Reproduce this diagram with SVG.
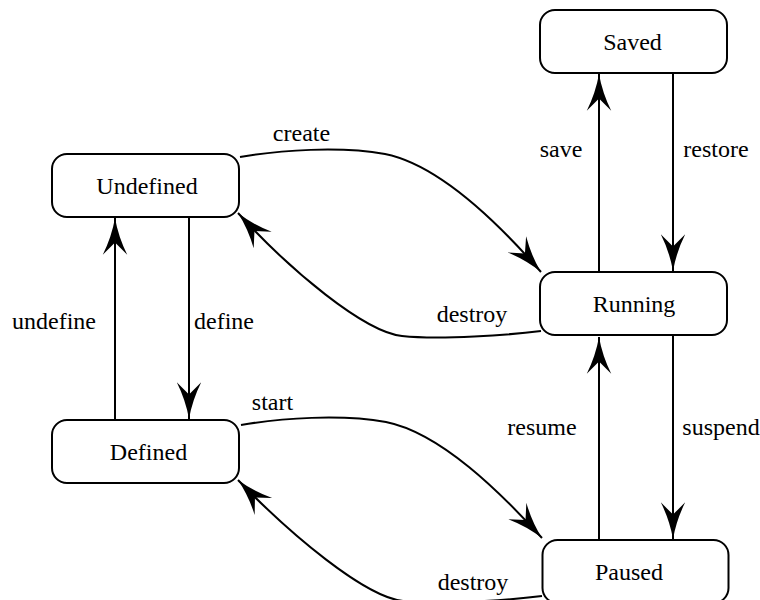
<svg xmlns="http://www.w3.org/2000/svg" width="760" height="600" viewBox="0 0 760 600">
<style>
.node rect{fill:#fff;stroke:#000;stroke-width:2}
.edges path{fill:none;stroke:#000;stroke-width:2;marker-end:url(#ah)}
</style>
<defs>
<marker id="ah" markerUnits="userSpaceOnUse" orient="auto" refX="0" refY="0" markerWidth="40" markerHeight="40" viewBox="-35 -12 36 24" overflow="visible">
<path d="M0,0 Q-17,-3 -33,-11 L-22,0 L-33,11 Q-17,3 0,0 Z" fill="#000" stroke="none"/>
</marker>
</defs>
<rect width="760" height="600" fill="#fff"/>
<g class="edges" id="edges">
<path d="M115,420 L115,218"/>
<path d="M189,217 L189,419"/>
<path d="M599,272 L599,74"/>
<path d="M673,73 L673,271"/>
<path d="M599,540 L599,337"/>
<path d="M673,335 L673,539"/>
<path d="M240,157 C280,150 340,146 385,154 C440,165 500,225 541,272"/>
<path d="M541,331 C510,335 440,340 402,336 C364,332 290,270 238,213"/>
<path d="M241,425 C281,418 341,414 386,422 C441,433 501,493 542,538"/>
<path d="M542,596 C511,600 441,605 403,601 C365,597 291,535 238,480"/>
</g>
<g font-family="'Times New Roman', 'Liberation Serif', serif" font-size="24" fill="#000" text-anchor="middle">
<g id="labels">
<text x="301.5" y="141">create</text>
<text x="472" y="322">destroy</text>
<text x="561" y="157">save</text>
<text x="716" y="157">restore</text>
<text x="54" y="329">undefine</text>
<text x="224" y="329">define</text>
<text x="272.5" y="410">start</text>
<text x="542" y="435">resume</text>
<text x="721" y="435">suspend</text>
<text x="473" y="590">destroy</text>
</g>
<g class="node" id="undefined"><rect x="52" y="154" width="187" height="63" rx="15"/><text x="147" y="194">Undefined</text></g>
<g class="node" id="defined"><rect x="52" y="420" width="187" height="63" rx="15"/><text x="148.5" y="460">Defined</text></g>
<g class="node" id="saved"><rect x="540" y="10" width="187" height="63" rx="15"/><text x="632.5" y="50">Saved</text></g>
<g class="node" id="running"><rect x="540" y="272" width="187" height="63" rx="15"/><text x="634" y="312">Running</text></g>
<g class="node" id="paused"><rect x="542.5" y="540" width="186" height="63" rx="15"/><text x="629" y="580">Paused</text></g>
</g>
</svg>
